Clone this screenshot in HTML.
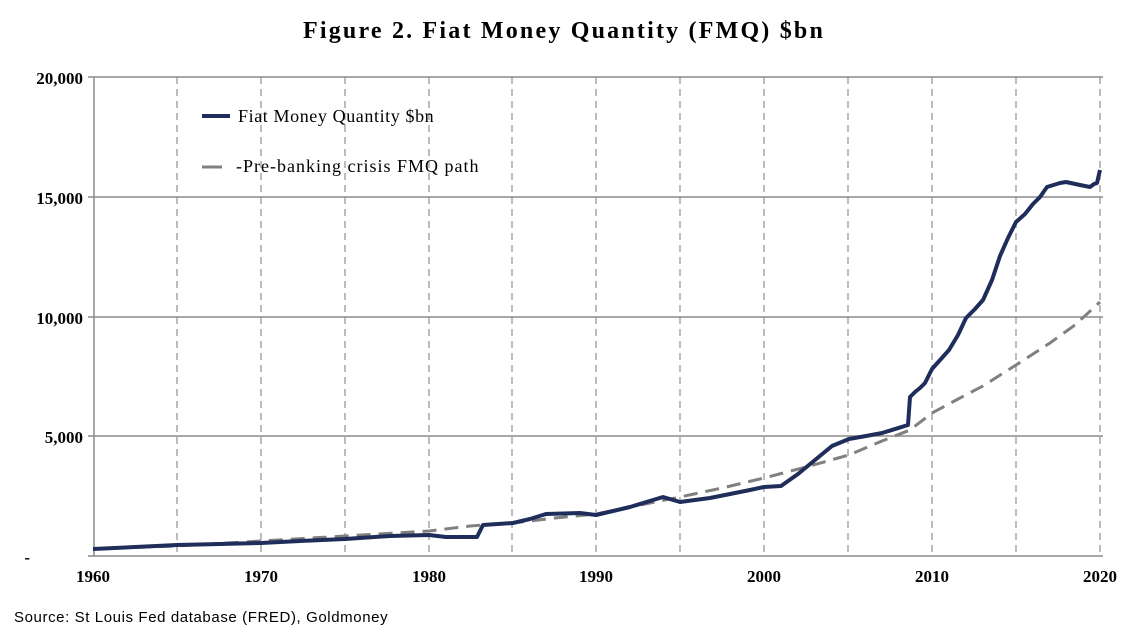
<!DOCTYPE html>
<html><head><meta charset="utf-8"><style>
body{margin:0;background:#fff;}
svg{display:block}
</style></head><body>
<svg width="1128" height="630" xmlns="http://www.w3.org/2000/svg">
<rect width="1128" height="630" fill="#fff"/>
<text x="564" y="38" text-anchor="middle" font-family="Liberation Serif, serif" font-weight="bold" font-size="24" letter-spacing="2.2">Figure 2. Fiat Money Quantity (FMQ)  $bn</text>
<g stroke="#999" stroke-width="1.3" stroke-dasharray="7,5">
<line x1="177" y1="77" x2="177" y2="556"/><line x1="261" y1="77" x2="261" y2="556"/>
<line x1="345" y1="77" x2="345" y2="556"/><line x1="429" y1="77" x2="429" y2="556"/>
<line x1="512" y1="77" x2="512" y2="556"/><line x1="596" y1="77" x2="596" y2="556"/>
<line x1="680" y1="77" x2="680" y2="556"/><line x1="764" y1="77" x2="764" y2="556"/>
<line x1="848" y1="77" x2="848" y2="556"/><line x1="932" y1="77" x2="932" y2="556"/>
<line x1="1016" y1="77" x2="1016" y2="556"/><line x1="1100" y1="77" x2="1100" y2="556"/>
</g>
<g stroke="#8a8a8a" stroke-width="1.5">
<line x1="88" y1="77" x2="1103" y2="77"/><line x1="88" y1="197" x2="1103" y2="197"/>
<line x1="88" y1="317" x2="1103" y2="317"/><line x1="88" y1="436" x2="1103" y2="436"/>
<line x1="88" y1="556" x2="1103" y2="556"/><line x1="94" y1="77" x2="94" y2="556"/>
</g>
<g font-family="Liberation Serif, serif" font-weight="bold" font-size="17" text-anchor="end">
<text x="83" y="84">20,000</text><text x="83" y="204">15,000</text><text x="83" y="324">10,000</text><text x="83" y="443">5,000</text><text x="30" y="563">-</text>
</g>
<g font-family="Liberation Serif, serif" font-weight="bold" font-size="17" text-anchor="middle">
<text x="93" y="582">1960</text><text x="261" y="582">1970</text><text x="429" y="582">1980</text><text x="596" y="582">1990</text><text x="764" y="582">2000</text><text x="932" y="582">2010</text><text x="1100" y="582">2020</text>
</g>
<text x="14" y="622" font-family="Liberation Sans, sans-serif" font-size="15" letter-spacing="0.6">Source: St Louis Fed  database (FRED), Goldmoney</text>
<polyline fill="none" stroke="#808080" stroke-width="3" stroke-dasharray="14,8" points="93,549 177,546 261,541 345,536 429,531 470,526 513,523 555,518 596,514 640,505 680,497 722,488 764,478 806,467 849,455 882,441 910,430 932,413 960,398 983,386 1016,365 1050,343 1075,325 1100,302"/>
<polyline fill="none" stroke="#1f2d5a" stroke-width="4" stroke-linejoin="round" points="93,549 135,547 177,545 220,544 261,543 300,541 345,539 390,536 429,535 446,537 477,537 483,525 513,523 530,519 546,514 580,513 596,515 630,507 663,497 680,502 710,498 730,494 750,490 764,487 781,486 798,474 815,460 832,446 849,439 866,436 882,433 908,425 910,397 915,392 920,388 925,383 932,369 949,350 958,335 966,318 975,309 983,300 992,280 1000,256 1008,238 1016,222 1025,214 1033,204 1040,197 1047,187 1060,183 1066,182 1080,185 1090,187 1094,184 1097,183 1100,170"/>
<line x1="202" y1="116" x2="230" y2="116" stroke="#1f2d5a" stroke-width="4"/>
<text x="238" y="122" font-family="Liberation Serif, serif" font-size="18" letter-spacing="0.6">Fiat Money Quantity $bn</text>
<line x1="202" y1="167" x2="222" y2="167" stroke="#808080" stroke-width="3"/>
<text x="236" y="172" font-family="Liberation Serif, serif" font-size="18" letter-spacing="1">-Pre-banking crisis FMQ path</text>
</svg>
</body></html>
